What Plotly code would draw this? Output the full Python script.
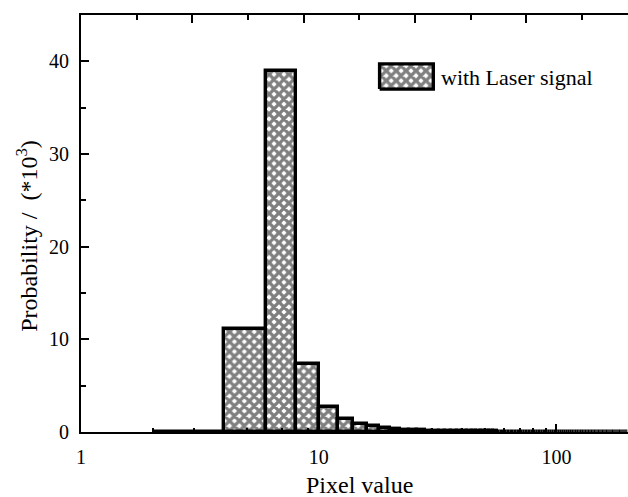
import plotly.graph_objects as go

# Histogram of pixel values (bin width 2), probability in units of 1e-3
bin_centers = [
    3, 5, 7, 9, 11, 13, 15, 17, 19,
    21, 23, 25, 27, 29, 31, 33, 35, 37, 39,
    41, 43, 45, 47, 49, 51, 53, 55, 57, 59,
    61, 63, 65, 67, 69, 71, 73, 75, 77, 79,
    81, 83, 85, 87, 89, 91, 93, 95, 97, 99,
    101, 103, 105, 107, 109, 111, 113, 115, 117, 119,
    121, 123, 125, 127, 129, 131, 133, 135, 137, 139,
    141, 143, 145, 147, 149, 151, 153, 155, 157, 159,
    161, 163, 165, 167, 169, 171, 173, 175, 177, 179,
    181, 183, 185, 187, 189, 191, 193, 195, 197, 199,
]
probability = [
    0.03, 11.1, 39.0, 7.3, 2.7, 1.35, 0.90, 0.62, 0.44,
    0.33, 0.26, 0.21, 0.18, 0.15, 0.13, 0.12, 0.11, 0.10, 0.09,
    0.085, 0.080, 0.075, 0.070, 0.066, 0.062, 0.058, 0.055, 0.052, 0.049,
    0.047, 0.045, 0.043, 0.041, 0.039, 0.038, 0.036, 0.035, 0.034, 0.033,
    0.032, 0.031, 0.030, 0.029, 0.028, 0.028, 0.027, 0.026, 0.026, 0.025,
    0.025, 0.024, 0.024, 0.023, 0.023, 0.022, 0.022, 0.022, 0.021, 0.021,
    0.021, 0.020, 0.020, 0.020, 0.019, 0.019, 0.019, 0.019, 0.018, 0.018,
    0.018, 0.018, 0.017, 0.017, 0.017, 0.017, 0.017, 0.016, 0.016, 0.016,
    0.016, 0.016, 0.016, 0.015, 0.015, 0.015, 0.015, 0.015, 0.015, 0.014,
    0.014, 0.014, 0.014, 0.014, 0.014, 0.014, 0.013, 0.013, 0.013, 0.013,
]
bin_width = 2

x_tick_vals = [1, 10, 100]
x_tick_text = ["1", "10", "100"]
y_tick_vals = [0, 10, 20, 30, 40]

series_name = "with Laser signal"
x_title = "Pixel value"
y_title = "Probability /  (*10<sup>3</sup>)"
FONT = "Liberation Serif, Times New Roman, serif"

hatch = dict(shape="x", fgcolor="black", bgcolor="white", size=7, solidity=0.72)

fig = go.Figure()

fig.add_trace(go.Bar(
    x=bin_centers,
    y=probability,
    width=[bin_width] * len(bin_centers),
    marker=dict(color="white", line=dict(color="black", width=3.4), pattern=hatch),
    cliponaxis=False,
    showlegend=False,
    name=series_name,
))

# invisible trace so the unlabeled top axis gets drawn
fig.add_trace(go.Scatter(x=[0], y=[0], xaxis="x2", yaxis="y",
                         mode="markers", marker=dict(opacity=0),
                         showlegend=False, hoverinfo="skip"))

# legend swatch drawn as a hatched box on its own small axes
fig.add_trace(go.Scatter(
    x=[0, 0, 1, 1, 0], y=[0, 1, 1, 0, 0],
    xaxis="x3", yaxis="y3",
    mode="lines", fill="toself",
    fillcolor="white",
    fillpattern=hatch,
    line=dict(color="black", width=3.4),
    showlegend=False, hoverinfo="skip",
))

axis_font = dict(family=FONT, size=20, color="black")
title_font = dict(family=FONT, size=24, color="black")

fig.update_layout(
    width=628, height=497,
    margin=dict(l=81, r=0, t=15, b=65),
    paper_bgcolor="white", plot_bgcolor="white",
    font=dict(family=FONT, color="black"),
    bargap=0,
    xaxis=dict(
        type="log", range=[0, 2.301],
        tickvals=x_tick_vals, ticktext=x_tick_text,
        ticks="inside", ticklen=8, tickwidth=1.5, tickcolor="black",
        minor=dict(ticks="inside", ticklen=4, tickwidth=1.5, tickcolor="black", dtick="D1"),
        showline=True, linewidth=2, linecolor="black",
        showgrid=False, zeroline=False,
        tickfont=axis_font, ticklabelstandoff=6,
    ),
    xaxis2=dict(
        overlaying="x", side="top", range=[0, 9.83],
        dtick=2, tick0=0,
        ticks="inside", ticklen=8, tickwidth=1.5, tickcolor="black",
        minor=dict(ticks="inside", ticklen=5, tickwidth=1.5, tickcolor="black", dtick=1),
        showticklabels=False, showline=True, linewidth=2, linecolor="black",
        showgrid=False, zeroline=False,
    ),
    yaxis=dict(
        range=[0, 45],
        tickvals=y_tick_vals,
        ticks="inside", ticklen=8, tickwidth=1.5, tickcolor="black",
        minor=dict(ticks="inside", ticklen=5, tickwidth=1.5, tickcolor="black", dtick=5),
        showline=True, linewidth=2, linecolor="black",
        showgrid=False, zeroline=False,
        tickfont=axis_font, ticklabelstandoff=6,
    ),
    xaxis3=dict(domain=[0.540, 0.650], range=[-0.06, 1.06], visible=False, anchor="y3", fixedrange=True),
    yaxis3=dict(domain=[0.815, 0.890], range=[-0.12, 1.12], visible=False, anchor="x3", fixedrange=True),
    annotations=[
        dict(text=series_name, xref="paper", yref="paper",
             x=0.6545, y=0.850, xanchor="left", yanchor="middle",
             showarrow=False, font=dict(family=FONT, size=22, color="black")),
        dict(text=x_title, xref="paper", yref="paper",
             x=0.510, y=-0.126, xanchor="center", yanchor="middle",
             showarrow=False, font=title_font),
        dict(text=y_title, xref="paper", yref="paper", textangle=-90,
             x=-0.099, y=0.47, xanchor="center", yanchor="middle",
             showarrow=False, font=title_font),
    ],
)

fig.write_html("out.html")
